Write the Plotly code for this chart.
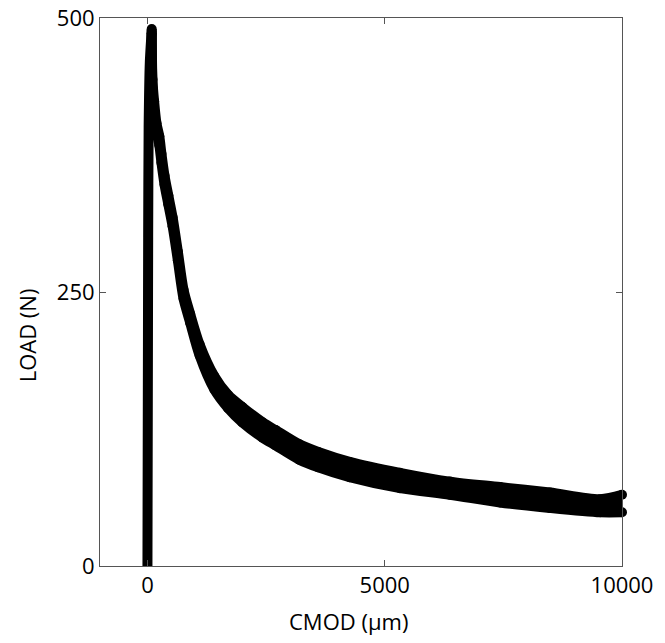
import plotly.graph_objects as go

# Loading (pre-peak) branch
cmod_rise = [0, 5, 10, 15, 25, 50, 90]
load_rise = [0, 100, 200, 300, 400, 460, 489]

# Softening (post-peak) branch: upper and lower edge of the scatter band
cmod_soft = [90, 105, 140, 190, 250, 295, 360, 440, 530, 640, 760, 900, 1100,
             1410, 1700, 2000, 2430, 2700, 3200, 3600, 4260, 5320, 6370, 7430,
             8480, 9540, 10000]
load_hi = [490, 444, 424, 404, 392, 376, 356, 338, 318, 287, 252, 230, 202,
           173, 156, 145, 131, 124, 111, 104, 95, 85, 77, 72,
           67, 61, 65]
load_lo = [486, 436, 416, 396, 384, 368, 348, 330, 310, 279, 244, 222, 192,
           161, 144, 131, 117, 110, 97, 90, 81, 71, 65, 58,
           53, 49, 49]

x_ticks = [0, 5000, 10000]
y_ticks = [0, 250, 500]

FONT = "Open Sans"

fig = go.Figure()

fig.add_trace(go.Scatter(
    x=cmod_soft, y=load_lo, mode="lines+markers",
    line=dict(color="black", width=10, shape="spline", smoothing=0.8),
    marker=dict(color="black", size=10),
    hoverinfo="skip", showlegend=False, cliponaxis=False,
))
fig.add_trace(go.Scatter(
    x=cmod_soft, y=load_hi, mode="lines+markers", fill="tonexty",
    fillcolor="black",
    line=dict(color="black", width=10, shape="spline", smoothing=0.8),
    marker=dict(color="black", size=10),
    hoverinfo="skip", showlegend=False, cliponaxis=False,
))
fig.add_trace(go.Scatter(
    x=cmod_rise, y=load_rise, mode="lines",
    line=dict(color="black", width=10, shape="spline", smoothing=0.6),
    showlegend=False,
))

axis_common = dict(
    showgrid=False, zeroline=False, showline=True, linecolor="#555",
    linewidth=1, mirror="ticks", ticks="inside", ticklen=6,
    tickcolor="#555", tickfont=dict(family=FONT, size=22, color="black"),
    automargin=False, ticklabeloverflow="allow",
)

fig.update_xaxes(range=[-1000, 10000], tickvals=x_ticks,
                 ticktext=[str(v) for v in x_ticks], **axis_common)
fig.update_yaxes(range=[0, 500], tickvals=y_ticks,
                 ticktext=[str(v) for v in y_ticks], **axis_common)

fig.add_annotation(text="CMOD (\u03bcm)", xref="paper", yref="paper",
                   x=0.477, y=-0.1004, xanchor="center", yanchor="middle",
                   showarrow=False, font=dict(family=FONT, size=22, color="black"))
fig.add_annotation(text="LOAD (N)", xref="paper", yref="paper",
                   x=-0.1408, y=0.42, xanchor="center", yanchor="middle",
                   textangle=-90, showarrow=False,
                   font=dict(family=FONT, size=22, color="black"))

fig.update_layout(
    width=657, height=635,
    margin=dict(l=92, r=43, t=10, b=77, autoexpand=False),
    paper_bgcolor="white", plot_bgcolor="white",
)

fig.write_html("out.html")
